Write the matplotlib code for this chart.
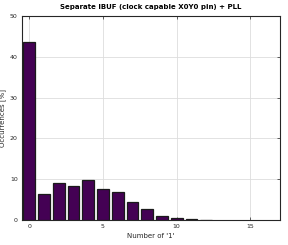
import matplotlib
matplotlib.use("Agg")
import matplotlib.pyplot as plt

counts = [0, 1, 2, 3, 4, 5, 6, 7, 8, 9, 10, 11, 12]
occurrences = [43.5, 6.3, 9.0, 8.4, 9.8, 7.7, 6.8, 4.3, 2.8, 1.1, 0.5, 0.25, 0.1]
xticks = [0, 5, 10, 15]
yticks = [0, 10, 20, 30, 40, 50]

fig = plt.figure(figsize=(2.88, 2.45), dpi=100)
ax = fig.add_axes([0.076, 0.102, 0.896, 0.833])
ax.bar(counts, occurrences, width=0.8, color="#440154", edgecolor="#1a1a1a", linewidth=0.9, zorder=3)
ax.set_xlim(-0.5, 17)
ax.set_ylim(0, 50)
ax.set_xticks(xticks)
ax.set_yticks(yticks)
ax.grid(True, color="#dddddd", linewidth=0.6, zorder=0)
ax.tick_params(direction="in", length=2, width=0.5, labelsize=4.5, colors="#262626", top=True, right=True, pad=3)
for s in ax.spines.values():
    s.set_linewidth(0.8)
    s.set_color("#262626")
ax.set_xlabel("Number of '1'", fontsize=5, color="#262626", labelpad=3)
ax.set_ylabel("Occurrences [%]", fontsize=5, color="#262626", labelpad=3)
ax.set_title("Separate IBUF (clock capable X0Y0 pin) + PLL", fontsize=5, fontweight="bold", pad=5)
fig.savefig("out.png", dpi=100)
